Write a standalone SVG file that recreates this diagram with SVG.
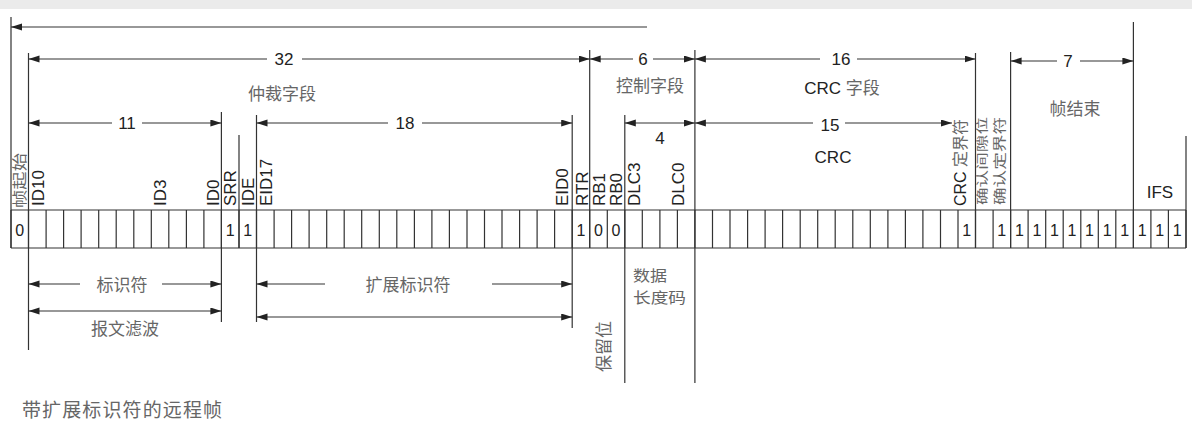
<svg xmlns="http://www.w3.org/2000/svg" width="1192" height="424" viewBox="0 0 1192 424">
<style>
.ln{stroke:#333;stroke-width:1.2;fill:none}
.dim{stroke:#333;stroke-width:1.2;fill:none;marker-end:url(#ah)}
.lat{font-family:"Liberation Sans",Arial,sans-serif;fill:#222}
.cjk{font-family:"Noto Sans CJK SC",sans-serif;fill:#666}
.num{font-size:17px;text-anchor:middle}
.bit{font-size:16px;text-anchor:middle}
.vl{font-size:17px}
.cj{font-size:17px}
.mid{text-anchor:middle}
</style>
<defs>
<marker id="ah" markerUnits="userSpaceOnUse" markerWidth="12" markerHeight="8" refX="11" refY="3.5" orient="auto"><path d="M0,0 L11,3.5 L0,7 Z" fill="#222"/></marker>
</defs>
<rect x="0" y="0" width="1192" height="424" fill="#ffffff"/>
<rect x="0" y="0" width="1192" height="9" fill="#ebebeb"/>

<g id="bit-row">
<path class="ln" d="M11,210H1186M11,248H1186
M11,210V248M28.5,210V248M46.1,210V248M63.6,210V248M81.1,210V248M98.7,210V248M116.2,210V248M133.8,210V248M151.3,210V248M168.8,210V248
M186.4,210V248M203.9,210V248M221.4,210V248M239,210V248M256.5,210V248M274.1,210V248M291.6,210V248M309.1,210V248M326.7,210V248M344.2,210V248
M361.7,210V248M379.3,210V248M396.8,210V248M414.4,210V248M431.9,210V248M449.4,210V248M467,210V248M484.5,210V248M502,210V248M519.6,210V248
M537.1,210V248M554.6,210V248M572.2,210V248M589.7,210V248M607.3,210V248M624.8,210V248M642.3,210V248M659.9,210V248M677.4,210V248M694.9,210V248
M712.5,210V248M730,210V248M747.6,210V248M765.1,210V248M782.6,210V248M800.2,210V248M817.7,210V248M835.2,210V248M852.8,210V248M870.3,210V248
M887.9,210V248M905.4,210V248M922.9,210V248M940.5,210V248M958,210V248M975.5,210V248M993.1,210V248M1010.6,210V248M1028.1,210V248M1045.7,210V248
M1063.2,210V248M1080.8,210V248M1098.3,210V248M1115.8,210V248M1133.4,210V248M1150.9,210V248M1168.4,210V248M1186,210V248"/>
<g class="lat bit">
<text x="19.8" y="236">0</text>
<text x="230.2" y="236">1</text>
<text x="247.8" y="236">1</text>
<text x="581" y="236">1</text>
<text x="598.5" y="236">0</text>
<text x="616" y="236">0</text>
<text x="966.8" y="236">1</text>
<text x="1001.8" y="236">1</text>
<text x="1019.4" y="236">1</text>
<text x="1036.9" y="236">1</text>
<text x="1054.5" y="236">1</text>
<text x="1072" y="236">1</text>
<text x="1089.5" y="236">1</text>
<text x="1107.1" y="236">1</text>
<text x="1124.6" y="236">1</text>
<text x="1142.1" y="236">1</text>
<text x="1159.7" y="236">1</text>
<text x="1177.2" y="236">1</text>
</g>
</g>

<g id="connectors">
<path class="ln" d="M11,17V248M28.5,53V350M221.4,112V322M239,135V248M256.5,115V322M572.2,115V328M589.7,50V248M624.8,115V383M694.9,50V383M975.5,53V248M1010.6,52V248M1133.4,22V248M1186,136V248"/>
<path class="dim" d="M647,27H11"/>
<path class="dim" d="M267,59H28.5"/><path class="dim" d="M302,59H589.7"/>
<path class="dim" d="M633,59H589.7"/><path class="dim" d="M653,59H694.9"/>
<path class="dim" d="M820,59H694.9"/><path class="dim" d="M857,59H975.5"/>
<path class="dim" d="M1057,61H1010.6"/><path class="dim" d="M1080,61H1133.4"/>
<path class="dim" d="M112,123H28.5"/><path class="dim" d="M142,123H221.4"/>
<path class="dim" d="M388,123H256.5"/><path class="dim" d="M422,123H572.2"/>
<path class="dim" d="M660,123H624.8"/><path class="dim" d="M660,123H694.9"/>
<path class="dim" d="M813,123H694.9"/><path class="dim" d="M845,123H952"/>
<path class="dim" d="M80,284H28.5"/><path class="dim" d="M162,284H221.4"/>
<path class="dim" d="M125,311H28.5"/><path class="dim" d="M125,311H221.4"/>
<path class="dim" d="M325,284H256.5"/><path class="dim" d="M492,284H572.2"/>
<path class="dim" d="M414,317H256.5"/><path class="dim" d="M414,317H572.2"/>
</g>

<g id="sof">
<text class="cjk" font-size="15" textLength="55" lengthAdjust="spacingAndGlyphs" transform="translate(25.2,208) rotate(-90)">帧起始</text>
</g>

<g id="arbitration">
<text class="lat num" x="284" y="65">32</text>
<text class="cjk cj mid" x="282" y="100">仲裁字段</text>
<text class="lat num" x="127" y="129">11</text>
<text class="lat num" x="405" y="129">18</text>
<text class="lat vl" transform="translate(43.6,206) rotate(-90)">ID10</text>
<text class="lat vl" transform="translate(166,206) rotate(-90)">ID3</text>
<text class="lat vl" transform="translate(219,206) rotate(-90)">ID0</text>
<text class="lat vl" transform="translate(236,206) rotate(-90)">SRR</text>
<text class="lat vl" transform="translate(254,206) rotate(-90)">IDE</text>
<text class="lat vl" transform="translate(271.5,206) rotate(-90)">EID17</text>
<text class="lat vl" transform="translate(568,206) rotate(-90)">EID0</text>
<text class="lat vl" transform="translate(588,206) rotate(-90)">RTR</text>
<text class="cjk cj mid" x="122" y="290.5">标识符</text>
<text class="cjk cj mid" x="125" y="334.5">报文滤波</text>
<text class="cjk cj mid" x="408" y="290.5">扩展标识符</text>
</g>

<g id="control">
<text class="lat num" x="643" y="65">6</text>
<text class="cjk cj mid" x="650" y="91.5">控制字段</text>
<text class="lat num" x="660" y="144">4</text>
<text class="lat vl" transform="translate(605,206) rotate(-90)">RB1</text>
<text class="lat vl" transform="translate(622,206) rotate(-90)">RB0</text>
<text class="lat vl" transform="translate(640,206) rotate(-90)">DLC3</text>
<text class="lat vl" transform="translate(684,206) rotate(-90)">DLC0</text>
<text class="cjk cj" transform="translate(609.5,372) rotate(-90)">保留位</text>
<text class="cjk" font-size="15" x="633" y="281" textLength="34" lengthAdjust="spacingAndGlyphs">数据</text>
<text class="cjk" font-size="15" x="633" y="303" textLength="53" lengthAdjust="spacingAndGlyphs">长度码</text>
</g>

<g id="crc">
<text class="lat num" x="841" y="65">16</text>
<text class="mid" x="842" y="93.5"><tspan class="lat" font-size="17">CRC </tspan><tspan class="cjk" font-size="17">字段</tspan></text>
<text class="lat num" x="830" y="131">15</text>
<text class="lat num" x="833" y="163">CRC</text>
<text transform="translate(966,206) rotate(-90)"><tspan class="lat" font-size="16">CRC </tspan><tspan class="cjk" font-size="16">定界符</tspan></text>
</g>

<g id="ack">
<text class="cjk" font-size="12" textLength="88" lengthAdjust="spacingAndGlyphs" transform="translate(986.6,205) rotate(-90)">确认间隙位</text>
<text class="cjk" font-size="13" textLength="88" lengthAdjust="spacingAndGlyphs" transform="translate(1004,205) rotate(-90)">确认定界符</text>
</g>

<g id="eof">
<text class="lat num" x="1068" y="67">7</text>
<text class="cjk cj mid" x="1075" y="114.5">帧结束</text>
</g>

<g id="ifs">
<text class="lat num" x="1160" y="198">IFS</text>
</g>

<g id="caption">
<text class="cjk" font-size="19" x="22" y="417" textLength="200" fill="#555">带扩展标识符的远程帧</text>
</g>
</svg>
